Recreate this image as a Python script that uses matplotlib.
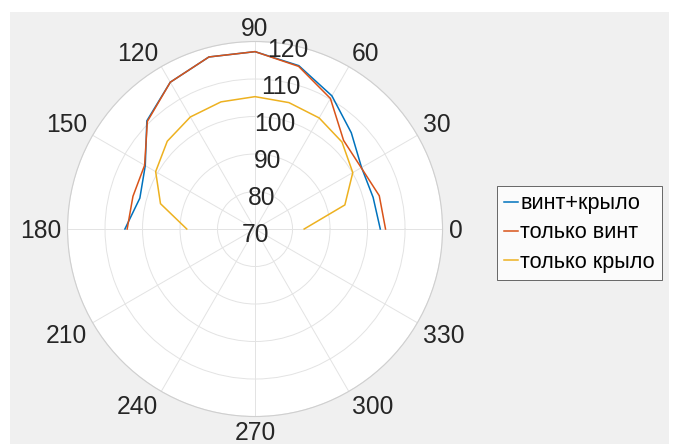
import numpy as np
import matplotlib.pyplot as plt
from matplotlib.patches import Rectangle

plt.rcParams['font.family'] = ['Liberation Sans', 'DejaVu Sans']

# angles in degrees, radii in the units of the radial axis
angles = [0, 15, 30, 45, 60, 75, 90, 105, 120, 135, 150, 165, 180]
vint_krylo = [103.4, 102.6, 102.8, 106.3, 111.0, 115.1, 117.3, 117.5, 115.2, 110.8, 103.8, 101.8, 104.7]
tolko_vint = [104.8, 104.3, 102.7, 103.4, 110.2, 114.9, 117.3, 117.5, 115.2, 110.6, 104.0, 103.7, 104.1]
tolko_krylo = [83.1, 94.8, 100.1, 102.8, 104.2, 104.9, 105.3, 105.1, 104.5, 103.1, 100.6, 96.1, 88.2]
series_names = ['винт+крыло', 'только винт', 'только крыло']

theta_ticks = list(range(0, 360, 30))
r_ticks = [70, 80, 90, 100, 110, 120]

colors = ['#0072BD', '#D95319', '#EDB120']
txt = '#262626'
tick_fs = 17.7

fig = plt.figure(figsize=(6.78, 4.44), dpi=100, facecolor='white')
fig.patches.append(Rectangle((10 / 678, 0), 659 / 678, 432 / 444, transform=fig.transFigure,
                             facecolor='#f0f0f0', edgecolor='none', zorder=-10))

ax = fig.add_axes([0.0996, 0.0619, 0.5531, 0.8446], projection='polar')
ax.set_facecolor('white')

th = np.deg2rad(angles)
for vals, name, c in zip([vint_krylo, tolko_vint, tolko_krylo], series_names, colors):
    ax.plot(th, vals, color=c, lw=1.1, label=name, zorder=3)

ax.set_rlim(r_ticks[0], r_ticks[-1])
ax.set_yticks(r_ticks)
ax.set_yticklabels([])
ax.set_xticks(np.deg2rad(theta_ticks))
ax.set_xticklabels([])
ax.grid(True, color='#e3e3e3', lw=0.7)
ax.spines['polar'].set_color('#cfcfcf')
ax.spines['polar'].set_linewidth(0.8)
ax.tick_params(length=0)

# tick labels placed by hand, anchored by the corner nearest the circle
em = tick_fs * 100 / 72
cap = 0.716 * em
gap = 6
for t in theta_ticks:
    a = np.deg2rad(t)
    c, s = np.cos(a), np.sin(a)
    ha = 'left' if c > 0.01 else ('right' if c < -0.01 else 'center')
    if s > 0.01:
        dy = 0
    elif s < -0.01:
        dy = -cap
    else:
        dy = -cap / 2
    ax.annotate(str(t), xy=(a, r_ticks[-1]), xytext=(gap * c, gap * s + dy),
                textcoords='offset pixels', ha=ha, va='baseline',
                fontsize=tick_fs, color=txt, annotation_clip=False)

for r in r_ticks:
    ax.annotate(str(r), xy=(np.deg2rad(80), r), xytext=(0, -4 - cap / 2),
                textcoords='offset pixels', ha='center', va='baseline',
                fontsize=tick_fs, color=txt, annotation_clip=False, zorder=4)

leg = fig.legend(loc='upper left', bbox_to_anchor=(497 / 678, 1 - 186 / 444),
                 fontsize=15.6, frameon=True, fancybox=False, borderpad=0.33,
                 handlelength=0.65, handletextpad=0.1, labelspacing=0.38,
                 borderaxespad=0)
leg.get_frame().set_edgecolor('#262626')
leg.get_frame().set_linewidth(0.6)
for t in leg.get_texts():
    t.set_color('black')

fig.savefig('out.png', dpi=100, facecolor=fig.get_facecolor())
